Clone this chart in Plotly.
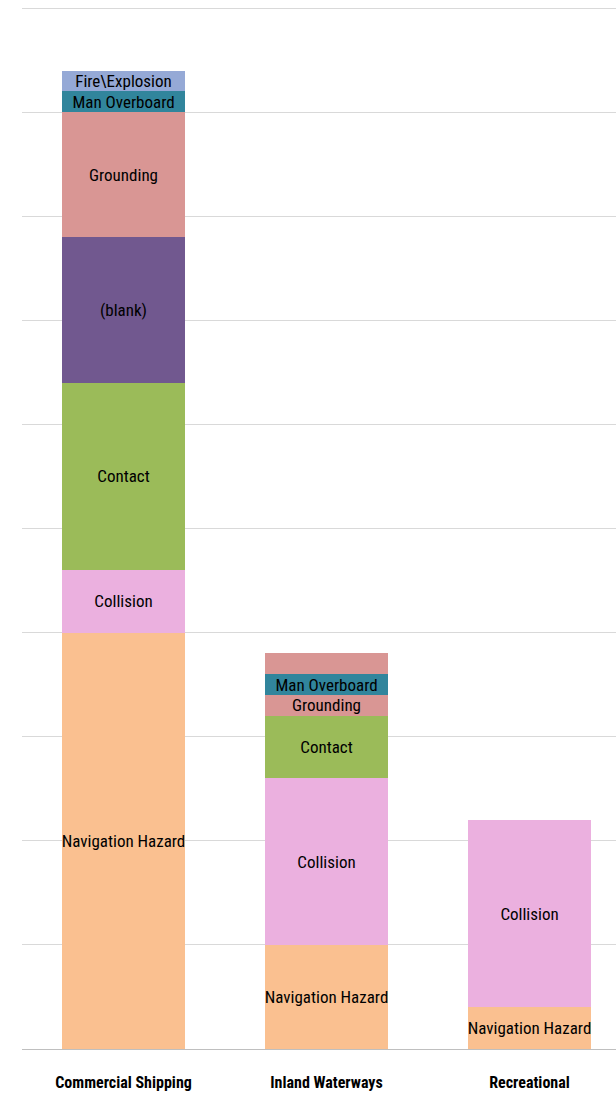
import plotly.graph_objects as go

# Incident counts by vessel category, stacked by incident type
categories = ["Commercial Shipping", "Inland Waterways", "Recreational"]

navigation_hazard = [20, 5, 2]
collision = [3, 8, 9]
contact = [9, 3, None]
blank = [7, None, None]
grounding = [6, 1, None]
man_overboard = [1, 1, None]
fire_explosion = [1, None, None]
other = [None, 1, None]

y_ticks = [0, 5, 10, 15, 20, 25, 30, 35, 40, 45, 50]

series = [
    ("Navigation Hazard", navigation_hazard, "#FAC090", True),
    ("Collision", collision, "#EBB0DF", True),
    ("Contact", contact, "#9BBB59", True),
    ("(blank)", blank, "#71588F", True),
    ("Grounding", grounding, "#D99694", True),
    ("Man Overboard", man_overboard, "#31859C", True),
    ("Fire\\Explosion", fire_explosion, "#95A9D6", True),
    ("Other", other, "#D99694", False),
]

FONT = "Liberation Sans Narrow, Roboto Condensed, Roboto, sans-serif"

fig = go.Figure()
for name, vals, color, labelled in series:
    fig.add_trace(go.Bar(
        x=categories,
        y=vals,
        name=name,
        marker=dict(color=color, line=dict(width=0)),
        text=[name if (v and labelled) else None for v in vals],
        textposition="inside",
        insidetextanchor="middle",
        textangle=0,
        constraintext="none",
        textfont=dict(family=FONT, size=17, color="#000000"),
        hoverinfo="x+y+name",
    ))

fig.update_layout(
    barmode="stack",
    bargap=0.394,
    width=616,
    height=1095,
    margin=dict(l=22, r=0, t=7, b=46),
    plot_bgcolor="white",
    paper_bgcolor="white",
    showlegend=False,
    uniformtext=dict(minsize=17, mode="show"),
    font=dict(family=FONT, color="#000000"),
)
fig.update_xaxes(
    range=[-0.5, 2.426],
    showline=True,
    linecolor="#BFBFBF",
    linewidth=1,
    showgrid=False,
    ticks="",
    ticklabelstandoff=19,
    tickfont=dict(family=FONT, size=16, color="#000000", weight="bold"),
    fixedrange=True,
)
fig.update_yaxes(
    range=[0, 50.05],
    tickvals=y_ticks,
    showticklabels=False,
    showgrid=True,
    gridcolor="#D9D9D9",
    gridwidth=1,
    zeroline=False,
    fixedrange=True,
)

fig.write_html("out.html")
